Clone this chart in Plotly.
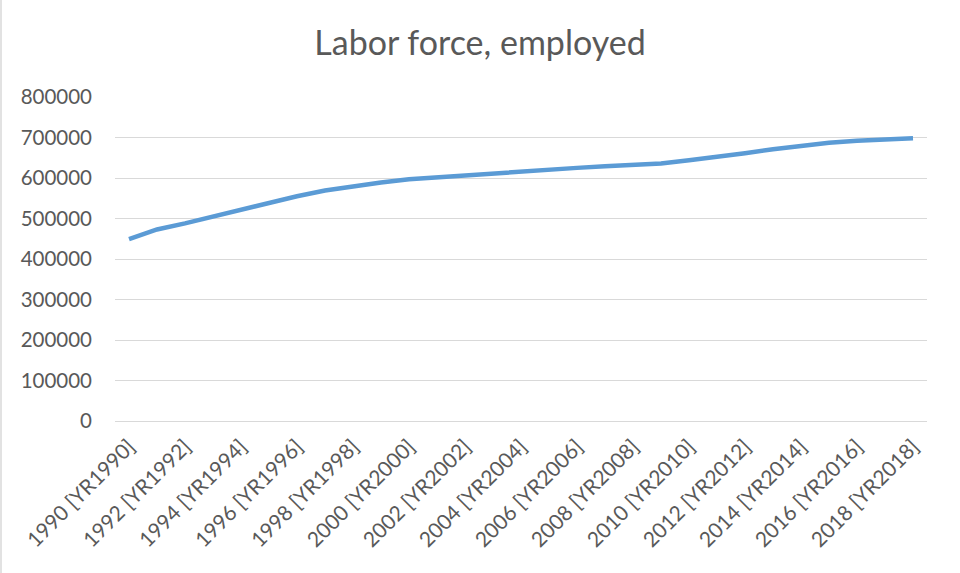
import plotly.graph_objects as go

years = list(range(1990, 2019))
categories = [f"{y} [YR{y}]" for y in years]
employed = [449000, 473000, 488000, 505000, 521000, 538000, 555000, 569000, 580000, 589000,
            597000, 602000, 606000, 611000, 616000, 621000, 625000, 629000, 632000, 636000,
            644000, 652000, 661000, 671000, 680000, 687000, 692000, 696000, 698000]
y_ticks = [0, 100000, 200000, 300000, 400000, 500000, 600000, 700000, 800000]
x_tick_labels = categories[::2]

W, H = 960, 573
L, R, T, B = 115, 33, 97, 152
pw, ph = W - L - R, H - T - B

fig = go.Figure()
fig.add_trace(go.Scatter(
    x=categories, y=employed, mode="lines",
    line=dict(color="#5b9bd5", width=4.5),
    hoverinfo="x+y",
))

fig.update_layout(
    width=W, height=H,
    margin=dict(l=L, r=R, t=T, b=B),
    paper_bgcolor="white", plot_bgcolor="white",
    font=dict(family="Lato, Open Sans, sans-serif", color="#595959"),
    title=dict(text="Labor force, employed", x=0.5, xanchor="center",
               y=1 - 43 / H, yanchor="middle", yref="container",
               font=dict(size=34, color="#595959")),
    showlegend=False,
    xaxis=dict(
        type="category", range=[-0.5, len(categories) - 0.5],
        tickmode="array", tickvals=x_tick_labels, ticktext=x_tick_labels,
        tickangle=-45, tickfont=dict(size=21, color="#595959"),
        showgrid=False, showline=True, linecolor="#d9d9d9", linewidth=1,
        ticks="", zeroline=False, ticklabelstandoff=4,
    ),
    yaxis=dict(
        range=[0, 800000], tickmode="array", tickvals=y_ticks,
        ticktext=[str(v) for v in y_ticks],
        tickfont=dict(size=20.5, color="#595959"),
        showgrid=True, gridcolor="#d9d9d9", gridwidth=1,
        zeroline=False, showline=False, ticks="", ticklabelstandoff=22,
    ),
    shapes=[dict(type="line", xref="paper", yref="paper",
                 x0=(-L + 1) / pw, x1=(-L + 1) / pw, y0=-B / ph, y1=1 + T / ph,
                 line=dict(color="#d9d9d9", width=1.5))],
)

fig.write_html("out.html")
